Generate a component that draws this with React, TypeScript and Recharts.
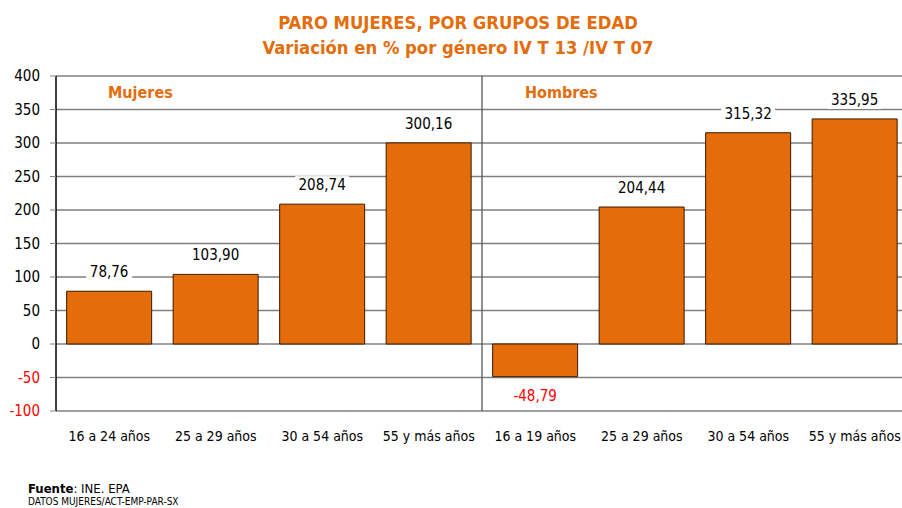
import { Bar, BarChart, CartesianGrid, LabelList, ReferenceLine, XAxis, YAxis } from 'recharts'

const categories = ['16 a 24 años', '25 a 29 años', '30 a 54 años', '55 y más años', '16 a 19 años', '25 a 29 años', '30 a 54 años', '55 y más años']
const variation = [78.76, 103.9, 208.74, 300.16, -48.79, 204.44, 315.32, 335.95]
const yTicks = [-100, -50, 0, 50, 100, 150, 200, 250, 300, 350, 400]
const groups = ['Mujeres', 'Hombres']

const ORANGE = '#E46C0A'
const FONT = '"DejaVu Sans Condensed", "DejaVu Sans", sans-serif'

const data = categories.map((name, i) => ({ idx: i, name, value: variation[i] }))

function YTick({ x, y, payload }: any) {
  const neg = payload.value < 0
  return (
    <text x={x} y={y} dy={5} textAnchor="end" fontSize={15} fontFamily={FONT} fill={neg ? '#FF0000' : '#000'}>
      {payload.value}
    </text>
  )
}

function XTick({ x, y, payload }: any) {
  return (
    <text x={x} y={y} dy={22} textAnchor="middle" fontSize={14} fontFamily={FONT} fill="#000">
      {categories[payload.value]}
    </text>
  )
}

function ValueLabel({ x, y, width, height, value }: any) {
  const neg = value < 0
  const top = Math.min(y, y + height)
  const bottom = Math.max(y, y + height)
  const cy = neg ? bottom + 19 : top - 19
  const cx = x + width / 2
  const txt = value.toFixed(2).replace('.', ',')
  const w = txt.length * 8 + 6
  return (
    <g>
      <rect x={cx - w / 2} y={cy - 9} width={w} height={18} fill="#fff" />
      <text x={cx} y={cy} dy={5} textAnchor="middle" fontSize={15} fontFamily={FONT} fill={neg ? '#FF0000' : '#000'}>
        {txt}
      </text>
    </g>
  )
}

export default function App() {
  return (
    <div style={{ position: 'absolute', left: 0, top: 0, width: 902, height: 508, overflow: 'hidden', background: '#fff', fontFamily: FONT }}>
      <div style={{ position: 'absolute', left: 0, width: 916, top: 10, textAlign: 'center', color: ORANGE, fontWeight: 'bold', fontSize: 18.3, lineHeight: '25px' }}>
        PARO MUJERES, POR GRUPOS DE EDAD
        <br />
        Variación en % por género IV T 13 /IV T 07
      </div>
      <div style={{ position: 'absolute', left: 108, top: 83, color: ORANGE, fontWeight: 'bold', fontSize: 16 }}>{groups[0]}</div>
      <div style={{ position: 'absolute', left: 525, top: 83, color: ORANGE, fontWeight: 'bold', fontSize: 16 }}>{groups[1]}</div>
      <div style={{ position: 'absolute', left: 0, top: 0 }}>
        <BarChart width={908} height={508} data={data} margin={{ top: 76, right: 0, bottom: 57, left: 0 }} barCategoryGap="10%">
          <CartesianGrid vertical={false} stroke="#808080" strokeWidth={1.3} />
          <XAxis dataKey="idx" axisLine={false} tickLine={false} height={40} tick={<XTick />} interval={0} />
          <XAxis xAxisId="n" dataKey="idx" type="number" domain={[-0.5, 7.5]} allowDataOverflow hide />
          <YAxis
            domain={[-100, 400]}
            ticks={yTicks}
            width={56}
            axisLine={{ stroke: '#000', strokeWidth: 1.5 }}
            tickLine={{ stroke: '#808080' }}
            tickSize={6}
            tickMargin={10}
            tick={<YTick />}
            interval={0}
          />
          <ReferenceLine xAxisId="n" x={3.5} stroke="#555" strokeWidth={1.3} />
          <Bar dataKey="value" fill={ORANGE} stroke="#3A1A00" strokeWidth={1} isAnimationActive={false}>
            <LabelList dataKey="value" content={<ValueLabel />} />
          </Bar>
        </BarChart>
      </div>
      <div style={{ position: 'absolute', left: 28, top: 481, fontSize: 13, color: '#000' }}>
        <b>Fuente</b>: INE. EPA
      </div>
      <div style={{ position: 'absolute', left: 28, top: 496, fontSize: 10, lineHeight: '12px', color: '#000' }}>DATOS MUJERES/ACT-EMP-PAR-SX</div>
    </div>
  )
}
